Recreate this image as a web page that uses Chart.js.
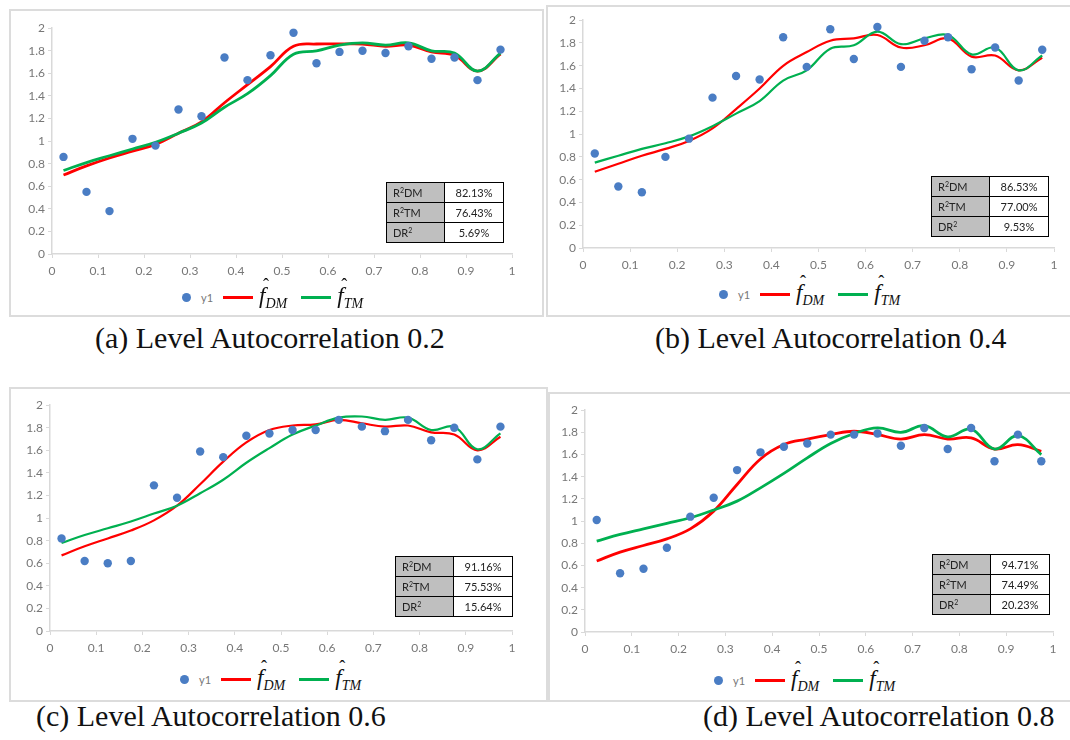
<!DOCTYPE html>
<html>
<head>
<meta charset="utf-8">
<script src="https://cdn.jsdelivr.net/npm/chart.js@4/dist/chart.umd.min.js"></script>
<style>
  body { margin: 0; background: #fff; width: 1070px; height: 740px; position: relative; overflow: hidden; font-family: Lato, "Liberation Sans", sans-serif; }
  .frame { position: absolute; border: 2px solid #dcdcdc; box-sizing: border-box; }
  canvas { position: absolute; }
  .stats { position: absolute; border-collapse: collapse; font-family: Lato, "Liberation Sans", sans-serif; font-size: 11px; color: #222; }
  .stats td { border: 1.5px solid #000; height: 19px; padding: 0 6px; }
  .stats td:first-child { background: #bfbfbf; text-align: left; width: 45px; }
  .stats td:last-child { background: #fff; text-align: center; width: 46px; }
  .stats sup { font-size: 7px; vertical-align: 4px; line-height: 0; }
  .legend { position: absolute; display: flex; align-items: center; height: 30px; }
  .dot { width: 9px; height: 9px; border-radius: 50%; background: #4a7dc4; margin-right: 10px; }
  .ylab { color: #777; font-size: 11px; margin-right: 10px; }
  .ln { width: 30px; height: 3px; margin-right: 6px; }
  .fh { position: relative; font-family: "Liberation Serif", "Times New Roman", Tinos, "DejaVu Serif", serif; font-style: italic; font-size: 23px; color: #111; margin-right: 14px; }
  .fh .hat { position: absolute; left: 4px; top: -8px; font-style: normal; font-size: 18px; }
  .fh sub { font-size: 14px; vertical-align: -5px; }
  .cap { position: absolute; font-family: "Liberation Serif", "Times New Roman", Tinos, "DejaVu Serif", serif; font-size: 30px; color: #111; white-space: nowrap; }
</style>
</head>
<body>
<div class="frame" style="left:9px;top:9px;width:535px;height:308px"></div>
<div class="frame" style="left:546px;top:5px;width:540px;height:312px"></div>
<div class="frame" style="left:9px;top:387px;width:539px;height:315px"></div>
<div class="frame" style="left:548px;top:392px;width:540px;height:310px"></div>

<canvas id="cA" width="506" height="260" style="left:16px;top:18px"></canvas>
<canvas id="cB" width="517" height="262" style="left:547px;top:10px"></canvas>
<canvas id="cC" width="508" height="260" style="left:14px;top:395px"></canvas>
<canvas id="cD" width="514" height="256" style="left:549px;top:400px"></canvas>

<script>
// x positions of the observations
const xs = [0.025, 0.075, 0.125, 0.175, 0.225, 0.275, 0.325, 0.375, 0.425, 0.475,
            0.525, 0.575, 0.625, 0.675, 0.725, 0.775, 0.825, 0.875, 0.925, 0.975];

// (a) level autocorrelation 0.2
const y1A = [0.86, 0.55, 0.38, 1.02, 0.96, 1.28, 1.22, 1.74, 1.54, 1.76, 1.96, 1.69, 1.79, 1.80, 1.78, 1.84, 1.73, 1.74, 1.54, 1.81];
const dmA = [0.70, 0.78, 0.85, 0.91, 0.97, 1.07, 1.17, 1.34, 1.50, 1.66, 1.84, 1.86, 1.86, 1.86, 1.84, 1.85, 1.79, 1.76, 1.62, 1.77];
const tmA = [0.74, 0.81, 0.87, 0.93, 0.99, 1.07, 1.16, 1.30, 1.42, 1.58, 1.77, 1.80, 1.85, 1.87, 1.85, 1.87, 1.80, 1.78, 1.62, 1.78];

// (b) level autocorrelation 0.4
const y1B = [0.83, 0.54, 0.49, 0.80, 0.96, 1.32, 1.51, 1.48, 1.85, 1.59, 1.92, 1.66, 1.94, 1.59, 1.82, 1.85, 1.57, 1.76, 1.47, 1.74];
const dmB = [0.67, 0.74, 0.81, 0.87, 0.94, 1.05, 1.22, 1.40, 1.60, 1.72, 1.82, 1.84, 1.87, 1.76, 1.78, 1.84, 1.68, 1.69, 1.56, 1.67];
const tmB = [0.75, 0.81, 0.87, 0.92, 0.98, 1.07, 1.18, 1.29, 1.47, 1.56, 1.75, 1.78, 1.90, 1.79, 1.84, 1.87, 1.70, 1.76, 1.56, 1.69];

// (c) level autocorrelation 0.6
const y1C = [0.82, 0.62, 0.60, 0.62, 1.29, 1.18, 1.59, 1.54, 1.73, 1.75, 1.78, 1.78, 1.87, 1.81, 1.77, 1.87, 1.69, 1.80, 1.52, 1.81];
const dmC = [0.67, 0.75, 0.82, 0.89, 0.98, 1.11, 1.30, 1.50, 1.67, 1.78, 1.82, 1.83, 1.87, 1.84, 1.81, 1.82, 1.76, 1.74, 1.60, 1.72];
const tmC = [0.78, 0.85, 0.91, 0.97, 1.04, 1.11, 1.22, 1.34, 1.49, 1.62, 1.74, 1.82, 1.89, 1.90, 1.87, 1.89, 1.78, 1.81, 1.61, 1.75];

// (d) level autocorrelation 0.8
const y1D = [1.01, 0.53, 0.57, 0.76, 1.04, 1.21, 1.46, 1.62, 1.67, 1.70, 1.78, 1.78, 1.79, 1.68, 1.84, 1.65, 1.84, 1.54, 1.78, 1.54];
const dmD = [0.64, 0.72, 0.78, 0.84, 0.93, 1.09, 1.33, 1.56, 1.69, 1.74, 1.78, 1.81, 1.78, 1.74, 1.78, 1.74, 1.75, 1.65, 1.69, 1.63];
const tmD = [0.82, 0.88, 0.93, 0.98, 1.03, 1.10, 1.18, 1.30, 1.43, 1.57, 1.70, 1.79, 1.84, 1.80, 1.86, 1.76, 1.83, 1.65, 1.77, 1.60];

// goodness-of-fit tables
const statLabels = ['R<sup>2</sup>DM', 'R<sup>2</sup>TM', 'DR<sup>2</sup>'];
const statsA = ['82.13%', '76.43%', '5.69%'];
const statsB = ['86.53%', '77.00%', '9.53%'];
const statsC = ['91.16%', '75.53%', '15.64%'];
const statsD = ['94.71%', '74.49%', '20.23%'];

const captions = ['(a) Level Autocorrelation 0.2', '(b) Level Autocorrelation 0.4',
                  '(c) Level Autocorrelation 0.6', '(d) Level Autocorrelation 0.8'];

const BLUE = '#4a7dc4', RED = '#ff0000', GREEN = '#00b050', AXIS = '#d9d9d9';

function pts(arr) {
    return xs.map((x, i) => ({ x: x, y: arr[i] }));
}

function makeChart(id, y1, dm, tm, lw) {
    const ctx = document.getElementById(id).getContext('2d');
    return new Chart(ctx, {
        type: 'scatter',
        data: {
            datasets: [
                { label: 'y1', data: pts(y1), backgroundColor: BLUE, borderColor: BLUE,
                  pointRadius: 4.2, pointBorderWidth: 0, order: 0 },
                { label: 'TM', data: pts(tm), showLine: true, borderColor: GREEN, borderWidth: lw,
                  pointRadius: 0, tension: 0.4, order: 1 },
                { label: 'DM', data: pts(dm), showLine: true, borderColor: RED, borderWidth: lw,
                  pointRadius: 0, tension: 0.4, order: 2 }
            ]
        },
        options: {
            responsive: false,
            animation: false,
            layout: { padding: { top: 10, right: 10, left: 0, bottom: 0 } },
            plugins: { legend: { display: false }, tooltip: { enabled: false } },
            scales: {
                x: {
                    type: 'linear', min: 0, max: 1,
                    ticks: { stepSize: 0.1, color: '#777', font: { family: 'Lato', size: 12 },
                             maxRotation: 0, padding: 6, callback: v => +v.toFixed(1) },
                    grid: { drawOnChartArea: false, tickLength: 4, color: AXIS },
                    border: { color: AXIS, width: 1.5 },
                    afterFit: s => { s.height = 24; }
                },
                y: {
                    min: 0, max: 2,
                    ticks: { stepSize: 0.2, color: '#777', font: { family: 'Lato', size: 12 },
                             callback: v => +v.toFixed(1) },
                    grid: { drawOnChartArea: false, tickLength: 4, color: AXIS },
                    border: { color: AXIS, width: 1.5 },
                    afterFit: s => { s.width = 36; }
                }
            }
        }
    });
}

makeChart('cA', y1A, dmA, tmA, 2.8);
makeChart('cB', y1B, dmB, tmB, 2.2);
makeChart('cC', y1C, dmC, tmC, 2.2);
makeChart('cD', y1D, dmD, tmD, 2.8);

function addTable(vals, left, top) {
    const t = document.createElement('table');
    t.className = 'stats';
    t.style.left = left + 'px';
    t.style.top = top + 'px';
    t.innerHTML = statLabels.map((l, i) => '<tr><td>' + l + '</td><td>' + vals[i] + '</td></tr>').join('');
    document.body.appendChild(t);
}
addTable(statsA, 386, 182);
addTable(statsB, 931, 176);
addTable(statsC, 395, 556);
addTable(statsD, 932, 554);

function fhat(sub) {
    return '<span class="fh"><span class="hat">&#710;</span>f<sub>' + sub + '</sub></span>';
}
function addLegend(left, top) {
    const d = document.createElement('div');
    d.className = 'legend';
    d.style.left = left + 'px';
    d.style.top = top + 'px';
    d.innerHTML = '<span class="dot"></span><span class="ylab">y1</span>' +
        '<span class="ln" style="background:' + RED + '"></span>' + fhat('DM') +
        '<span class="ln" style="background:' + GREEN + '"></span>' + fhat('TM');
    document.body.appendChild(d);
}
addLegend(182, 282);
addLegend(719, 279);
addLegend(180, 664);
addLegend(714, 665);

function addCaption(text, left, top) {
    const c = document.createElement('div');
    c.className = 'cap';
    c.style.left = left + 'px';
    c.style.top = top + 'px';
    c.textContent = text;
    document.body.appendChild(c);
}
addCaption(captions[0], 95, 321);
addCaption(captions[1], 655, 321);
addCaption(captions[2], 36, 699);
addCaption(captions[3], 703, 699);
</script>
</body>
</html>
